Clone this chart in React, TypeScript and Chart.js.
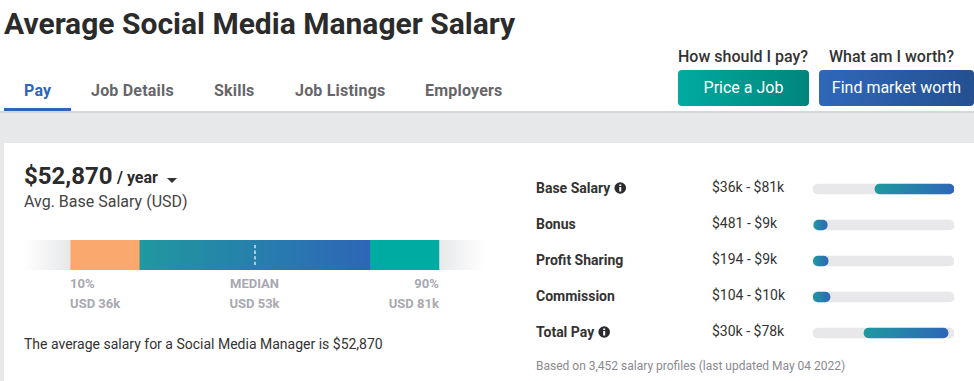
import React, { useEffect, useRef } from "react";
import { Chart, registerables } from "chart.js";

Chart.register(...registerables);

const FONT = "Roboto, sans-serif";
const tabs = ["Pay", "Job Details", "Skills", "Job Listings", "Employers"];
const tabX = [24, 91, 214, 295, 425];

// Percentile strip
const percentileStops = [[0, 10], [10, 25], [25, 75], [75, 90], [90, 100]];
const percentileNames = ["10%", "MEDIAN", "90%"];
const percentileSalaries = ["USD 36k", "USD 53k", "USD 81k"];
const percentilePositions = [10, 50, 90];

// Pay ranges
const payCategories = ["Base Salary", "Bonus", "Profit Sharing", "Commission", "Total Pay"];
const payLow = [35600, 481, 194, 104, 29300];
const payHigh = [81000, 8200, 8700, 9800, 77600];
const payRangeText = ["$36k - $81k", "$481 - $9k", "$194 - $9k", "$104 - $10k", "$30k - $78k"];
const payHasInfo = [true, false, false, false, true];
const payMax = 81000;

function T(p: { x: number; y: number; s: number; w?: number; c: string; ls?: number; children: React.ReactNode }) {
  return (
    <div
      style={{
        position: "absolute",
        left: p.x,
        top: p.y - 15,
        height: 30,
        lineHeight: "30px",
        fontSize: p.s,
        fontWeight: p.w || 400,
        color: p.c,
        letterSpacing: p.ls,
        whiteSpace: "nowrap",
      }}
    >
      {p.children}
    </div>
  );
}

export default function App() {
  const stripRef = useRef<HTMLCanvasElement>(null);
  const payRef = useRef<HTMLCanvasElement>(null);

  useEffect(() => {
    stripRef.current!.getContext("2d", { alpha: false });
    payRef.current!.getContext("2d", { alpha: false });

    const whiteBg = {
      id: "whiteBg",
      beforeDraw(c: any) {
        c.ctx.save();
        c.ctx.fillStyle = "#fff";
        c.ctx.fillRect(0, 0, c.width, c.height);
        c.ctx.restore();
      },
    };

    const stripColors = (chart: any, i: number) => {
      const x = chart.scales.x;
      if (!chart.chartArea) return "#ccc";
      const [a, b] = percentileStops[i];
      const xa = x.getPixelForValue(a);
      const xb = x.getPixelForValue(b);
      if (i === 1) return "#fba86f";
      if (i === 3) return "#00aba1";
      const g = chart.ctx.createLinearGradient(xa, 0, xb, 0);
      if (i === 0) {
        g.addColorStop(0, "rgba(231,232,234,0)");
        g.addColorStop(1, "#e7e8ea");
      } else if (i === 4) {
        g.addColorStop(0, "#e7e8ea");
        g.addColorStop(1, "rgba(231,232,234,0)");
      } else {
        g.addColorStop(0, "#1f999f");
        g.addColorStop(1, "#2e66b8");
      }
      return g;
    };

    const stripLabels = {
      id: "stripLabels",
      afterDatasetsDraw(c: any) {
        const { ctx, scales } = c;
        const x = scales.x;
        const mid = Math.round(x.getPixelForValue(50));
        const area = c.chartArea;
        ctx.save();
        ctx.strokeStyle = "rgba(255,255,255,0.6)";
        ctx.lineWidth = 2;
        ctx.setLineDash([3.3, 2.3]);
        ctx.beginPath();
        ctx.moveTo(mid, area.top + 5);
        ctx.lineTo(mid, area.bottom - 5);
        ctx.stroke();
        ctx.setLineDash([]);
        ctx.fillStyle = "#a9a8b1";
        ctx.font = `700 13px ${FONT}`;
        ctx.textBaseline = "middle";
        percentilePositions.forEach((p, i) => {
          ctx.textAlign = i === 0 ? "left" : i === 1 ? "center" : "right";
          const px = x.getPixelForValue(p);
          ctx.fillText(percentileNames[i], px, 45);
          ctx.fillText(percentileSalaries[i], px, 65);
        });
        ctx.restore();
      },
    };

    const strip = new Chart(stripRef.current!, {
      type: "bar",
      data: {
        labels: ["Base Salary"],
        datasets: percentileStops.map((s, i) => ({
          data: [s],
          backgroundColor: (ctx: any) => stripColors(ctx.chart, i),
          barThickness: 30,
          borderWidth: 0,
          grouped: false,
        })) as any,
      },
      options: {
        indexAxis: "y",
        animation: false,
        responsive: false,
        layout: { padding: { left: 0, right: 0, top: 0, bottom: 50 } },
        plugins: { legend: { display: false }, tooltip: { enabled: false } },
        scales: {
          x: { type: "linear", min: 0, max: 100, display: false },
          y: { display: false },
        },
      },
      plugins: [whiteBg, stripLabels],
    } as any);

    const payFill = (ctx: any) => {
      const chart = ctx.chart;
      if (!chart.chartArea) return "#2e66b8";
      const x = chart.scales.x;
      const i = ctx.dataIndex;
      const g = chart.ctx.createLinearGradient(x.getPixelForValue(payLow[i]), 0, x.getPixelForValue(payHigh[i]), 0);
      g.addColorStop(0, "#1f999f");
      g.addColorStop(1, "#2e66b8");
      return g;
    };

    const payLabels = {
      id: "payLabels",
      afterDraw(c: any) {
        const { ctx, scales } = c;
        const y = scales.y;
        ctx.save();
        ctx.textBaseline = "middle";
        payCategories.forEach((name, i) => {
          const py = y.getPixelForValue(i) - 1;
          ctx.textAlign = "left";
          ctx.fillStyle = "#333";
          ctx.font = `400 14px ${FONT}`;
          ctx.fillText(payRangeText[i], 176, py);
          if (payHasInfo[i]) {
            ctx.font = `700 14px ${FONT}`;
            const w = ctx.measureText(name).width;
            const cx = w + 10;
            ctx.fillStyle = "#2b2b2b";
            ctx.beginPath();
            ctx.arc(cx, py, 5.8, 0, Math.PI * 2);
            ctx.fill();
            ctx.fillStyle = "#fff";
            ctx.fillRect(cx - 1, py - 1, 2, 4.5);
            ctx.fillRect(cx - 1, py - 3.5, 2, 1.5);
          }
        });
        ctx.restore();
      },
    };

    const pay = new Chart(payRef.current!, {
      type: "bar",
      data: {
        labels: payCategories,
        datasets: [
          {
            data: payLow.map((l, i) => [l, payHigh[i]]),
            backgroundColor: payFill,
            barThickness: 10,
            borderRadius: 5,
            borderSkipped: false,
            borderWidth: 0,
            grouped: false,
            order: 0,
          },
          {
            data: payLow.map(() => [0, payMax]),
            backgroundColor: "#e8e8ea",
            barThickness: 10,
            borderRadius: 5,
            borderSkipped: false,
            borderWidth: 0,
            grouped: false,
            order: 1,
          },
        ] as any,
      },
      options: {
        indexAxis: "y",
        animation: false,
        responsive: false,
        layout: { padding: { left: 0, right: 20, top: 0, bottom: 0 } },
        plugins: { legend: { display: false }, tooltip: { enabled: false } },
        scales: {
          x: { type: "linear", min: 0, max: payMax, display: false },
          y: {
            type: "category",
            border: { display: false },
            grid: { display: false, drawTicks: false },
            afterFit(s: any) {
              s.width = 277;
              s.paddingTop = 0;
              s.paddingBottom = 0;
            },
            ticks: {
              crossAlign: "far",
              padding: 0,
              color: "#333",
              font: { family: FONT, size: 14, weight: 700 },
            },
          },
        },
      },
      plugins: [whiteBg, payLabels],
    } as any);

    return () => {
      strip.destroy();
      pay.destroy();
    };
  }, []);

  return (
    <div style={{ position: "fixed", left: 0, top: 0, width: 974, height: 381, overflow: "hidden", background: "#fff", fontFamily: FONT }}>
      <T x={4} y={24} s={30} w={700} c="#2b2b2b">Average Social Media Manager Salary</T>
      {tabs.map((t, i) => (
        <T key={t} x={tabX[i]} y={91} s={16} w={700} ls={0.2} c={i === 0 ? "#2d65b8" : "#66666a"}>{t}</T>
      ))}
      <div style={{ position: "absolute", left: 4, top: 108, width: 67, height: 3, background: "#2d65b8" }} />
      <div style={{ position: "absolute", left: 0, top: 111, width: 974, height: 270, background: "#e7e8ea", borderTop: "2px solid #d6d7da", boxSizing: "border-box" }} />
      <div style={{ position: "absolute", left: 4, top: 143, width: 970, height: 238, background: "#fff" }} />

      <T x={678} y={57} s={16} w={500} c="#333">How should I pay?</T>
      <T x={829} y={57} s={16} w={500} c="#333">What am I worth?</T>
      <div style={{ position: "absolute", left: 678, top: 70, width: 131, height: 36, borderRadius: 4, background: "linear-gradient(90deg,#00ab9f,#00857d)", color: "#fff", fontSize: 16, lineHeight: "36px", textAlign: "center" }}>Price a Job</div>
      <div style={{ position: "absolute", left: 819, top: 70, width: 155, height: 36, borderRadius: 4, background: "linear-gradient(90deg,#2f68b9,#245090)", color: "#fff", fontSize: 16, lineHeight: "36px", textAlign: "center" }}>Find market worth</div>

      <T x={24} y={176} s={24} w={700} c="#2b2b2b">$52,870</T>
      <T x={117} y={178} s={16} w={700} c="#2b2b2b">/ year</T>
      <div style={{ position: "absolute", left: 166.5, top: 177.5, width: 0, height: 0, borderLeft: "5.5px solid transparent", borderRight: "5.5px solid transparent", borderTop: "5px solid #333" }} />
      <T x={24} y={202} s={16} c="#444">Avg. Base Salary (USD)</T>

      <canvas ref={stripRef} width={461} height={80} style={{ position: "absolute", left: 24, top: 240, width: 461, height: 80 }} />
      <T x={24} y={344} s={14} c="#333">The average salary for a Social Media Manager is $52,870</T>

      <canvas ref={payRef} width={438} height={180} style={{ position: "absolute", left: 536, top: 171, width: 438, height: 180 }} />
      <T x={536} y={366} s={12} c="#8a8a90">Based on 3,452 salary profiles (last updated May 04 2022)</T>
    </div>
  );
}
